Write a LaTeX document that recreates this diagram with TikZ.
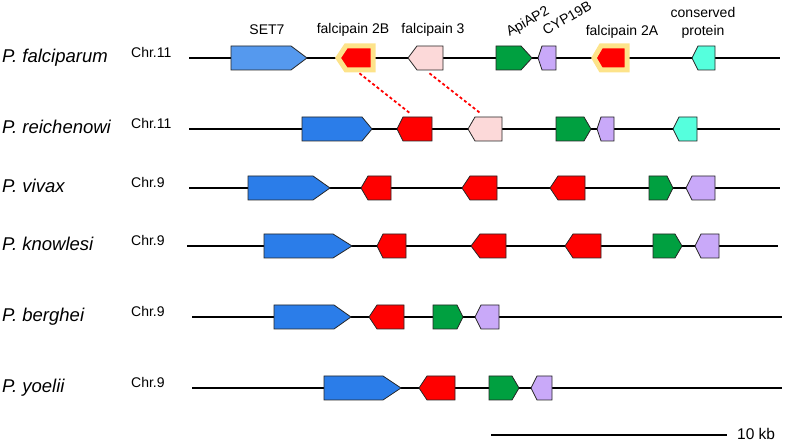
\documentclass[tikz,border=0pt]{standalone}
\usepackage{fontspec}
\setmainfont{Liberation Sans}
\usetikzlibrary{fit}

\definecolor{setlight}{HTML}{5599EE}
\definecolor{setblue}{HTML}{2B7DE9}
\definecolor{fpred}{HTML}{FF0000}
\definecolor{fppink}{HTML}{FCD9D9}
\definecolor{apigreen}{HTML}{00A040}
\definecolor{cyplav}{HTML}{C9A9F9}
\definecolor{consaqua}{HTML}{55FFDD}
\definecolor{glowyellow}{HTML}{FDE38A}

\tikzset{
    %Gene arrows
    gene/.style={draw=black!85, line width=0.8pt, line join=miter},
    set7/.style={gene, fill=setblue},
    fp/.style={gene, fill=fpred},
    fpthree/.style={gene, fill=fppink},
    api/.style={gene, fill=apigreen},
    cyp/.style={gene, fill=cyplav},
    cons/.style={gene, fill=consaqua},
    glow/.style={draw=glowyellow, line width=5pt, fill=fpred},
    %Texts and lines
    chrom/.style={line width=1.8pt, black},
    species/.style={font=\fontsize{18.5}{20}\selectfont\itshape, anchor=base west, inner sep=0pt},
    chrlabel/.style={font=\fontsize{14}{16}\selectfont, anchor=base west, inner sep=0pt},
    genelabel/.style={font=\fontsize{14}{18}\selectfont, inner sep=0pt},
    ortholog/.style={draw=fpred, line width=1.8pt, dash pattern=on 3pt off 2.5pt, shorten <=5pt, shorten >=5pt}
}

% gene arrow: style, name, flat end, point start, tip
\newcommand{\gene}[5]{%
    \draw[#1] (#3,12) -- (#4,12) -- (#5,0) -- (#4,-12) -- (#3,-12) -- cycle;
    \node[fit={(#3,-12) (#5,12)}, inner sep=0pt] (#2) {};
}

\begin{document}
\begin{tikzpicture}[x=1pt, y=1pt]
\useasboundingbox (0,0) rectangle (785,443);

%Chromosomes
\foreach \sp/\chr/\y/\xa/\xb in {P. falciparum/Chr.11/385/189/780,
    P. reichenowi/Chr.11/314/189/780, P. vivax/Chr.9/255/189/780,
    P. knowlesi/Chr.9/197/187/778, P. berghei/Chr.9/126/192/782,
    P. yoelii/Chr.9/55/192/782}
{
    \node[species] (sp\y) at (2,\y-5) {\sp};
    \node[chrlabel] (chr\y) at (131,\y) {\chr};
    \draw[chrom] (\xa,\y) -- (\xb,\y);
}

%P. falciparum
\begin{scope}[yshift=385pt]
    \gene{gene, fill=setlight}{set7f}{231}{291}{307}
    \gene{glow}{fp2bf}{373}{346}{338}
    \gene{fpthree}{fp3f}{443}{417}{408}
    \gene{api}{apif}{496}{521}{532}
    \gene{cyp}{cypf}{556}{542}{538}
    \gene{glow}{fp2af}{627}{601}{594}
    \gene{cons}{consf}{715}{698}{692}
\end{scope}

%P. reichenowi
\begin{scope}[yshift=314pt]
    \gene{set7}{set7r}{302}{362}{372}
    \gene{fp}{fp2br}{432}{403}{397}
    \gene{fpthree}{fp3r}{502}{475}{468}
    \gene{api}{apir}{556}{584}{591}
    \gene{cyp}{cypr}{614}{601}{597}
    \gene{cons}{consr}{697}{679}{673}
\end{scope}

%P. vivax
\begin{scope}[yshift=255pt]
    \gene{set7}{set7v}{248}{313}{330}
    \gene{fp}{fpav}{391}{368}{361}
    \gene{fp}{fpbv}{497}{470}{462}
    \gene{fp}{fpcv}{585}{558}{550}
    \gene{api}{apiv}{649}{667}{673}
    \gene{cyp}{cypv}{715}{692}{686}
\end{scope}

%P. knowlesi
\begin{scope}[yshift=197pt]
    \gene{set7}{set7k}{264}{333}{352}
    \gene{fp}{fpak}{406}{383}{377}
    \gene{fp}{fpbk}{506}{480}{471}
    \gene{fp}{fpck}{601}{573}{565}
    \gene{api}{apik}{653}{675}{682}
    \gene{cyp}{cypk}{719}{701}{695}
\end{scope}

%P. berghei
\begin{scope}[yshift=126pt]
    \gene{set7}{set7b}{274}{334}{351}
    \gene{fp}{fpb}{404}{377}{369}
    \gene{api}{apib}{433}{457}{463}
    \gene{cyp}{cypb}{499}{481}{475}
\end{scope}

%P. yoelii
\begin{scope}[yshift=55pt]
    \gene{set7}{set7y}{324}{383}{401}
    \gene{fp}{fpy}{455}{427}{419}
    \gene{api}{apiy}{489}{512}{519}
    \gene{cyp}{cypy}{552}{537}{531}
\end{scope}

%Gene names
\node[genelabel] (lset7) at (267,413) {SET7};
\node[genelabel] (lfp2b) at (353,413) {falcipain 2B};
\node[genelabel] (lfp3) at (433,413) {falcipain 3};
\node[genelabel, rotate=30] (lapi) at (528,421) {ApiAP2};
\node[genelabel, rotate=30] (lcyp) at (567,425) {CYP19B};
\node[genelabel] (lfp2a) at (622,411) {falcipain 2A};
\node[genelabel, align=center] (lcons) at (703,420) {conserved\\protein};

%Orthologs
\draw[ortholog] (fp2bf.south) -- (fp2br.north);
\draw[ortholog] (fp3f.south) -- (fp3r.north);

%Scale bar
\coordinate (bar0) at (491,8);
\node[chrlabel, font=\fontsize{15.5}{18}\selectfont] (barlabel) at (737,3) {10 kb};
\draw[chrom] (bar0) -- (727,8);
\end{tikzpicture}
\end{document}
